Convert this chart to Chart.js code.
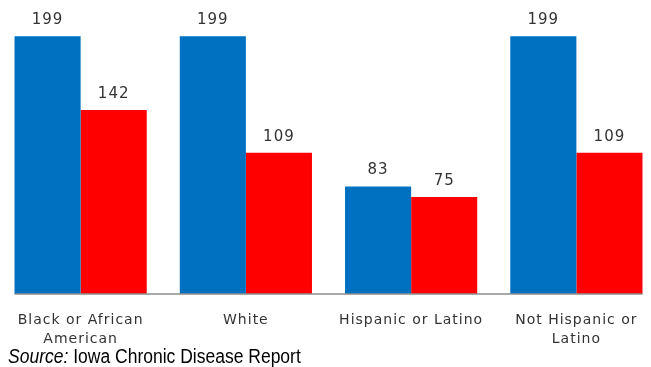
<!DOCTYPE html>
<html>
<head>
<meta charset="utf-8">
<script src="https://cdn.jsdelivr.net/npm/chart.js@4/dist/chart.umd.min.js"></script>
<style>
  html, body { margin: 0; padding: 0; background: #fff; overflow: hidden; }
  #wrap { position: absolute; left: -2px; top: 0; width: 661px; height: 367px; }
  #source {
    position: absolute; left: 8px; top: 344px;
    font-family: "Liberation Sans", Arial, sans-serif;
    font-size: 20px; color: #000; white-space: nowrap; line-height: 24px;
    transform: scaleX(0.875); transform-origin: left center;
  }
</style>
</head>
<body>
<div id="wrap"><canvas id="chart"></canvas></div>
<div id="source"><i>Source:</i> Iowa Chronic Disease Report</div>
<script>
// Groups along the x axis (multi-line labels)
const categories = [
  ['Black or African', 'American'],
  ['White'],
  ['Hispanic or Latino'],
  ['Not Hispanic or', 'Latino']
];
// Two series per group
const seriesBlue = [199, 199, 83, 199];
const seriesRed = [142, 109, 75, 109];

const TEXT = '#333333';

// Slightly spaced lettering for all canvas text
const spacing = {
  id: 'spacing',
  beforeDraw(chart) {
    if ('letterSpacing' in chart.ctx) chart.ctx.letterSpacing = '1px';
  }
};

// Value labels above each bar and a baseline spanning the bar groups
const barExtras = {
  id: 'barExtras',
  afterDatasetsDraw(chart) {
    const ctx = chart.ctx;
    ctx.save();
    if ('letterSpacing' in ctx) ctx.letterSpacing = '1px';
    ctx.font = '15px "DejaVu Sans", Verdana, sans-serif';
    ctx.fillStyle = TEXT;
    ctx.textAlign = 'center';
    ctx.textBaseline = 'middle';
    chart.data.datasets.forEach((ds, i) => {
      chart.getDatasetMeta(i).data.forEach((bar, j) => {
        ctx.fillText(String(ds.data[j]), bar.x, bar.y - 16);
      });
    });
    const first = chart.getDatasetMeta(0).data[0];
    const lastMeta = chart.getDatasetMeta(chart.data.datasets.length - 1).data;
    const last = lastMeta[lastMeta.length - 1];
    const yBase = chart.scales.y.getPixelForValue(0);
    ctx.strokeStyle = '#8c8c8c';
    ctx.lineWidth = 1.5;
    ctx.beginPath();
    ctx.moveTo(first.x - first.width / 2, yBase);
    ctx.lineTo(last.x + last.width / 2, yBase);
    ctx.stroke();
    ctx.restore();
  }
};

new Chart(document.getElementById('chart'), {
  type: 'bar',
  data: {
    labels: categories,
    datasets: [
      { data: seriesBlue, backgroundColor: '#0070C0', barPercentage: 1.0, categoryPercentage: 0.8 },
      { data: seriesRed, backgroundColor: '#FF0000', barPercentage: 1.0, categoryPercentage: 0.8 }
    ]
  },
  options: {
    responsive: true,
    maintainAspectRatio: false,
    animation: false,
    layout: { padding: { top: 35, bottom: 0, left: 0, right: 0 } },
    plugins: { legend: { display: false }, tooltip: { enabled: false } },
    scales: {
      x: {
        grid: { display: false, drawTicks: false },
        border: { display: false },
        ticks: {
          color: TEXT,
          padding: 17,
          maxRotation: 0,
          autoSkip: false,
          font: { family: '"DejaVu Sans", Verdana, sans-serif', size: 14, lineHeight: 1.35 }
        },
        afterFit(scale) { scale.height = 73; }
      },
      y: {
        display: false,
        min: 0,
        max: 200
      }
    }
  },
  plugins: [spacing, barExtras]
});
</script>
</body>
</html>
